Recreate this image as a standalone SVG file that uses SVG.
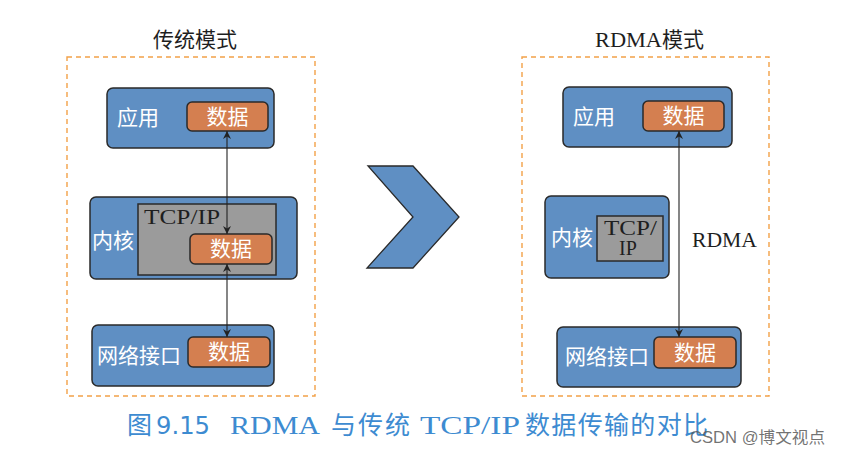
<svg xmlns="http://www.w3.org/2000/svg" width="841" height="456" viewBox="0 0 841 456">
<defs>
<style>
.frame{fill:none;stroke:#f2a148;stroke-width:1.4;stroke-dasharray:5 4}
.blue{fill:#5f8fc3;stroke:#2a2a2a;stroke-width:1.5}
.org{fill:#d47f50;stroke:#2a2a2a;stroke-width:1.5}
.gray{fill:#9b9b9b;stroke:#2a2a2a;stroke-width:1.5}
.lbl{font-family:"Noto Sans CJK SC","Noto Sans",sans-serif;font-size:21px;fill:#ffffff}
.title{font-family:"Noto Sans CJK SC","Noto Sans",sans-serif;font-size:21px;fill:#1e1e1e}
.serif{font-family:"Liberation Serif","DejaVu Serif",serif;fill:#1e1e1e}
.conn{stroke:#222;stroke-width:1.1;fill:none;marker-start:url(#ah);marker-end:url(#ah)}
.cap{font-size:25px;fill:#3d8bd1}
</style>
<marker id="ah" viewBox="0 0 10 10" refX="10" refY="5" markerWidth="8" markerHeight="8" markerUnits="userSpaceOnUse" orient="auto-start-reverse">
<path d="M0,0 L10,5 L0,10 L3,5 Z" fill="#222"/>
</marker>
</defs>

<!-- Left frame -->
<g id="left-frame">
<rect class="frame" x="67" y="57" width="248" height="339"/>
<text class="title" x="195" y="47" text-anchor="middle">传统模式</text>
</g>
<g id="left-app">
<rect class="blue" x="107" y="88" width="167" height="60" rx="6"/>
<text class="lbl" x="117" y="125">应用</text>
<g id="left-app-data">
<rect class="org" x="187" y="102" width="81" height="29" rx="5"/>
<text class="lbl" x="227.5" y="124" text-anchor="middle">数据</text>
</g>
</g>
<g id="left-kernel">
<rect class="blue" x="90" y="197" width="207" height="82" rx="6"/>
<text class="lbl" x="92" y="248">内核</text>
<rect class="gray" x="138" y="204" width="138" height="71"/>
<text class="serif" x="144" y="224" font-size="21" textLength="76" lengthAdjust="spacingAndGlyphs">TCP/IP</text>
<g id="left-kernel-data">
<rect class="org" x="190" y="234" width="82" height="30" rx="5"/>
<text class="lbl" x="231" y="256" text-anchor="middle">数据</text>
</g>
</g>
<g id="left-net">
<rect class="blue" x="92" y="325" width="182" height="61" rx="6"/>
<text class="lbl" x="97" y="363">网络接口</text>
<g id="left-net-data">
<rect class="org" x="188" y="337" width="82" height="30" rx="5"/>
<text class="lbl" x="229" y="359" text-anchor="middle">数据</text>
</g>
</g>

<!-- Chevron -->
<g id="chevron">
<polygon points="368,166 413,166 459,217 413,268 367,268 413,217" fill="#5f8fc3" stroke="#2a2a2a" stroke-width="1.3" stroke-linejoin="miter"/>
</g>

<!-- Right frame -->
<g id="right-frame">
<rect class="frame" x="522" y="57" width="247" height="339"/>
<text x="595" y="47"><tspan class="serif" font-size="21" textLength="67" lengthAdjust="spacingAndGlyphs">RDMA</tspan><tspan class="title" x="662">模式</tspan></text>
</g>
<g id="right-app">
<rect class="blue" x="563" y="87" width="169" height="60" rx="6"/>
<text class="lbl" x="573" y="124">应用</text>
<g id="right-app-data">
<rect class="org" x="643" y="101" width="81" height="30" rx="5"/>
<text class="lbl" x="683.5" y="123" text-anchor="middle">数据</text>
</g>
</g>
<g id="right-kernel">
<rect class="blue" x="545" y="196" width="124" height="82" rx="6"/>
<text class="lbl" x="551" y="245">内核</text>
<rect class="gray" x="597" y="216" width="66" height="45"/>
<text class="serif" font-size="20"><tspan x="604" y="235" textLength="53" lengthAdjust="spacingAndGlyphs">TCP/</tspan><tspan x="619" y="255">IP</tspan></text>
</g>
<g id="right-net">
<rect class="blue" x="557" y="327" width="184" height="60" rx="6"/>
<text class="lbl" x="565" y="364">网络接口</text>
<g id="right-net-data">
<rect class="org" x="654" y="337" width="82" height="31" rx="5"/>
<text class="lbl" x="695" y="360" text-anchor="middle">数据</text>
</g>
</g>

<!-- Connectors -->
<g id="connectors">
<line class="conn" x1="227" y1="131" x2="227" y2="234"/>
<line class="conn" x1="227" y1="264" x2="227" y2="337"/>
<line class="conn" x1="679" y1="131" x2="679" y2="337"/>
<text class="serif" x="692" y="247" font-size="21" textLength="65" lengthAdjust="spacingAndGlyphs">RDMA</text>
</g>

<!-- Caption -->
<g id="caption">
<text class="cap" y="434"><tspan x="127" font-family="Noto Sans CJK SC,sans-serif">图</tspan><tspan x="156" font-family="DejaVu Sans,sans-serif" textLength="54" lengthAdjust="spacingAndGlyphs">9.15</tspan><tspan x="230" font-family="Liberation Serif,serif" textLength="90" lengthAdjust="spacingAndGlyphs">RDMA</tspan><tspan x="331" font-family="Noto Sans CJK SC,sans-serif" textLength="79" lengthAdjust="spacing">与传统</tspan><tspan x="420" font-family="Liberation Serif,serif" textLength="100" lengthAdjust="spacingAndGlyphs">TCP/IP</tspan><tspan x="525" font-family="Noto Sans CJK SC,sans-serif" textLength="183" lengthAdjust="spacing">数据传输的对比</tspan></text>
<text x="690" y="443" font-family="Liberation Sans,Noto Sans CJK SC,sans-serif" font-size="16" fill="#5a5a5a" fill-opacity="0.85" textLength="135" lengthAdjust="spacingAndGlyphs">CSDN @博文视点</text>
</g>
</svg>
